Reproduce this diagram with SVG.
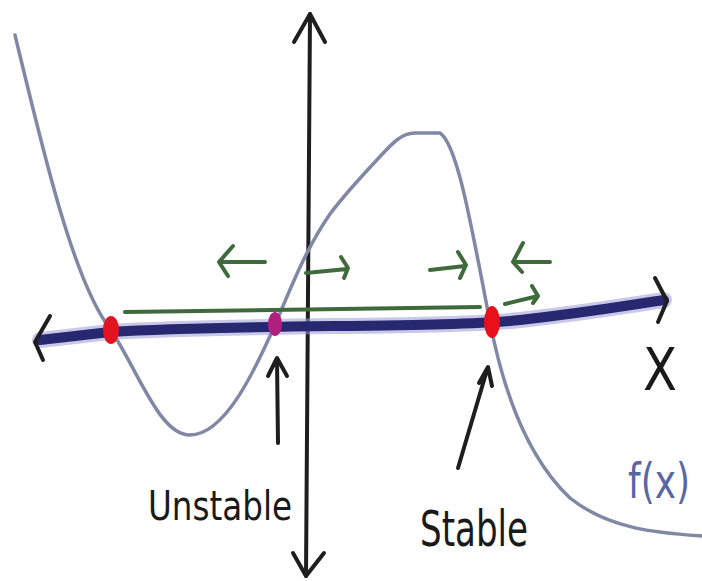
<svg xmlns="http://www.w3.org/2000/svg" width="702" height="581" viewBox="0 0 702 581">
<style>
.curve{fill:none;stroke:#8088a6;stroke-width:3.5;stroke-linecap:round;stroke-linejoin:round}
.ink{fill:none;stroke:#1e1e1e;stroke-width:4;stroke-linecap:round;stroke-linejoin:round}
.green{fill:none;stroke:#3f6b3c;stroke-width:4;stroke-linecap:round;stroke-linejoin:round}
.axisglow{fill:none;stroke:#9a9ad6;stroke-width:16;stroke-linecap:round;opacity:0.55}
.axis{fill:none;stroke:#27286f;stroke-width:10;stroke-linecap:round}
.hand{font-family:"DejaVu Sans Condensed","Liberation Sans",sans-serif;fill:#1a1a1a}
</style>
<rect width="702" height="581" fill="#ffffff"/>
<g id="y-axis">
<path class="ink" d="M310,14 L306,576"/>
<path class="ink" d="M294,42 L310,14 L325,42"/>
<path class="ink" d="M293,553 L306,576 L324,553"/>
</g>
<g id="x-axis">
<path class="axisglow" d="M40,340 L110,332 C250,324 450,328 520,320 C590,312 630,305 664,300"/>
<path class="axis" d="M40,340 L110,332 C250,324 450,328 520,320 C590,312 630,305 664,300"/>
<path class="ink" d="M50,316 L35,342 L43,360"/>
<path class="ink" d="M655,278 L667,301 L658,322"/>
</g>
<g id="f-curve">
<path class="curve" d="M15,35 C45,160 75,285 111,330 C140,375 160,435 190,435 C225,435 255,370 275,325 C290,290 305,250 330,214 C345,194 360,178 375,162 C390,146 400,133 415,133 L440,133 C458,145 472,230 490,322 C505,400 530,460 570,498 C610,530 660,533 702,536"/>
</g>
<g id="flow">
<path class="green" d="M125,312 L480,307"/>
<path class="green" d="M505,304 L538,296 M532,286 L538,296 L533,303"/>
<path class="green" stroke-width="5" d="M222,262 L265,262 M233,246 L219,262 L228,276"/>
<path class="green" d="M306,273 L347,269 M341,257 L348,268 L344,278"/>
<path class="green" d="M430,270 L465,266 M458,252 L466,265 L460,278"/>
<path class="green" stroke-width="5" d="M516,262 L550,262 M523,243 L513,262 L522,272"/>
</g>
<g id="equilibria">
<ellipse id="eq-left" cx="111" cy="330" rx="8" ry="14" fill="#e2141f"/>
<ellipse id="eq-unstable" cx="275" cy="324" rx="7" ry="12" fill="#b0207e"/>
<ellipse id="eq-stable" cx="492" cy="322" rx="8" ry="16" fill="#e8101a"/>
</g>
<g id="connectors">
<path class="ink" d="M278,443 L277,360 M268,376 L277,358 L287,376"/>
<path class="ink" d="M458,468 L487,370 M479,383 L488,367 L492,386"/>
</g>
<g id="labels">
<text class="hand" x="148" y="520" font-size="40" textLength="144" lengthAdjust="spacingAndGlyphs">Unstable</text>
<text class="hand" x="420" y="546" font-size="50" textLength="108" lengthAdjust="spacingAndGlyphs">Stable</text>
<text class="hand" x="643" y="390" font-size="58" textLength="34" lengthAdjust="spacingAndGlyphs">X</text>
<text x="628" y="498" font-size="48" font-family="DejaVu Sans Condensed, Liberation Sans, sans-serif" fill="#5866a6" textLength="62" lengthAdjust="spacingAndGlyphs">f(x)</text>
</g>
</svg>
